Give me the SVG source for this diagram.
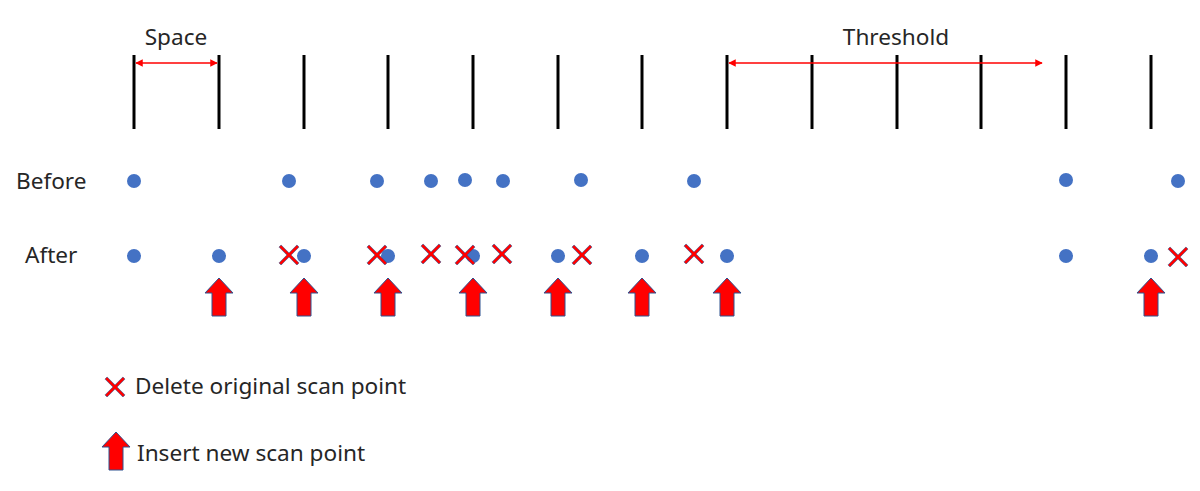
<svg xmlns="http://www.w3.org/2000/svg" width="1200" height="491" viewBox="0 0 1200 491">
<defs>
<style>
.t{font-family:"Noto Sans","Liberation Sans",sans-serif;font-size:22.6px;fill:#262626}
.v{stroke:#000;stroke-width:3}
.d{fill:#4472C4}
.x{fill:#FF0000;stroke:#2F528F;stroke-width:0.6}
.a{fill:#FF0000;stroke:#2F528F;stroke-width:1}
.r{stroke:#FF0000;stroke-width:1.5;fill:none;marker-start:url(#ah);marker-end:url(#ah)}
</style>
<marker id="ah" viewBox="0 0 10 10" refX="9" refY="5" markerWidth="5" markerHeight="5" orient="auto-start-reverse">
<path d="M0,0 L10,5 L0,10 z" fill="#FF0000"/>
</marker>
<polygon id="X" points="-10,-7.9 -7.9,-10 0,-2.1 7.9,-10 10,-7.9 2.1,0 10,7.9 7.9,10 0,2.1 -7.9,10 -10,7.9 -2.1,0"/>
<polygon id="U" points="0,0 14,15 7,15 7,38 -7,38 -7,15 -14,15"/>
</defs>
<g id="ruler">
<line class="v" x1="134" y1="55" x2="134" y2="129"/>
<line class="v" x1="219" y1="55" x2="219" y2="129"/>
<line class="v" x1="304" y1="55" x2="304" y2="129"/>
<line class="v" x1="388" y1="55" x2="388" y2="129"/>
<line class="v" x1="473" y1="55" x2="473" y2="129"/>
<line class="v" x1="558" y1="55" x2="558" y2="129"/>
<line class="v" x1="642" y1="55" x2="642" y2="129"/>
<line class="v" x1="727" y1="55" x2="727" y2="129"/>
<line class="v" x1="812" y1="55" x2="812" y2="129"/>
<line class="v" x1="897" y1="55" x2="897" y2="129"/>
<line class="v" x1="981" y1="55" x2="981" y2="129"/>
<line class="v" x1="1066" y1="55" x2="1066" y2="129"/>
<line class="v" x1="1151" y1="55" x2="1151" y2="129"/>
</g>
<g id="connectors">
<line class="r" x1="136" y1="63" x2="217" y2="63"/>
<line class="r" x1="729" y1="63" x2="1042" y2="63"/>
</g>
<g id="labels">
<text class="t" x="176" y="45" text-anchor="middle">Space</text>
<text class="t" x="896" y="45" text-anchor="middle">Threshold</text>
<text class="t" x="16" y="189">Before</text>
<text class="t" x="25" y="263">After</text>
</g>
<g id="before">
<circle class="d" cx="134" cy="181" r="7"/>
<circle class="d" cx="289" cy="181" r="7"/>
<circle class="d" cx="377" cy="181" r="7"/>
<circle class="d" cx="431" cy="181" r="7"/>
<circle class="d" cx="465" cy="180" r="7"/>
<circle class="d" cx="503" cy="181" r="7"/>
<circle class="d" cx="581" cy="180" r="7"/>
<circle class="d" cx="694" cy="181" r="7"/>
<circle class="d" cx="1066" cy="180" r="7"/>
<circle class="d" cx="1178" cy="181" r="7"/>
</g>
<g id="after">
<circle class="d" cx="134" cy="256" r="7"/>
<circle class="d" cx="219" cy="256" r="7"/>
<circle class="d" cx="304" cy="256" r="7"/>
<circle class="d" cx="388" cy="256" r="7"/>
<circle class="d" cx="473" cy="256" r="7"/>
<circle class="d" cx="558" cy="256" r="7"/>
<circle class="d" cx="642" cy="256" r="7"/>
<circle class="d" cx="727" cy="256" r="7"/>
<circle class="d" cx="1066" cy="256" r="7"/>
<circle class="d" cx="1151" cy="256" r="7"/>
</g>
<g id="deleted">
<use href="#X" class="x" x="289" y="255"/>
<use href="#X" class="x" x="377" y="255"/>
<use href="#X" class="x" x="431" y="254"/>
<use href="#X" class="x" x="465" y="255"/>
<use href="#X" class="x" x="502" y="254"/>
<use href="#X" class="x" x="582" y="255"/>
<use href="#X" class="x" x="694" y="254"/>
<use href="#X" class="x" x="1178" y="257"/>
</g>
<g id="inserted">
<use href="#U" class="a" x="219" y="278"/>
<use href="#U" class="a" x="304" y="278"/>
<use href="#U" class="a" x="388" y="278"/>
<use href="#U" class="a" x="473" y="278"/>
<use href="#U" class="a" x="558" y="278"/>
<use href="#U" class="a" x="642" y="278"/>
<use href="#U" class="a" x="727" y="278"/>
<use href="#U" class="a" x="1151" y="278"/>
</g>
<g id="legend">
<use href="#X" class="x" x="115" y="387"/>
<text class="t" x="135" y="394">Delete original scan point</text>
<use href="#U" class="a" x="116" y="432"/>
<text class="t" x="137" y="461">Insert new scan point</text>
</g>
</svg>
